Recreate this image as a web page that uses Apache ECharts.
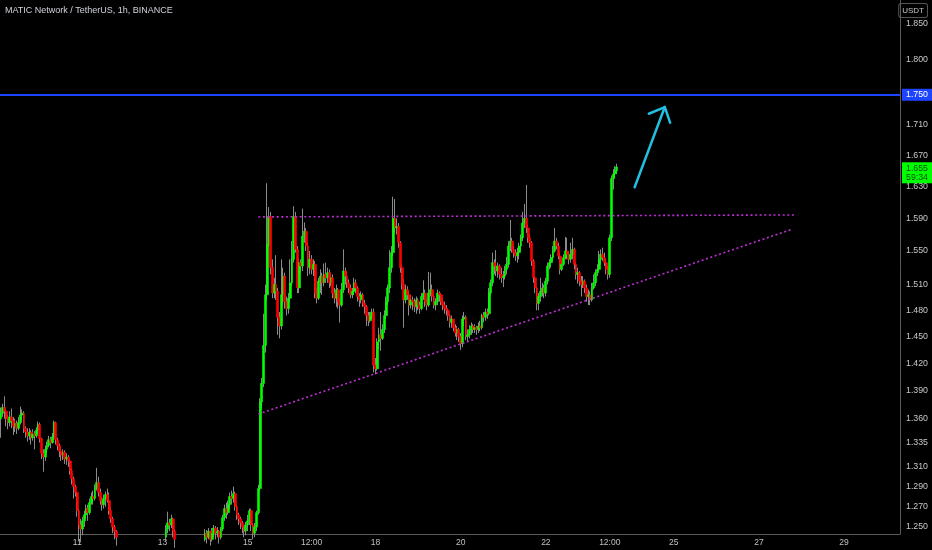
<!DOCTYPE html>
<html>
<head>
<meta charset="utf-8">
<script src="https://cdn.jsdelivr.net/npm/echarts@6/dist/echarts.min.js"></script>
<style>
html,body{margin:0;padding:0;background:#000;}
#chart{width:932px;height:550px;}
</style>
</head>
<body>
<div id="chart"></div>
<script>
// ---- data (hourly candles, MATIC/USDT) ----
const chartTitle = 'MATIC Network / TetherUS, 1h, BINANCE';
const startDay = 9, startHour = 5, totalSlots = 507;
const firstOpen = 1.360;
const closes = [
1.366,1.372,1.368,1.360,1.356,1.362,1.358,1.352,1.355,1.350,
1.356,1.364,1.366,1.350,1.346,1.342,1.346,1.340,1.344,1.342,
1.348,1.354,1.339,1.324,1.320,1.328,1.332,1.338,1.335,1.341,
1.356,1.338,1.332,1.326,1.322,1.325,1.318,1.320,1.316,1.306,
1.298,1.290,1.284,1.266,1.252,1.248,1.256,1.262,1.268,1.264,
1.274,1.280,1.278,1.288,1.294,1.284,1.276,1.272,1.278,1.282,
1.276,1.266,1.258,1.250,1.246,1.240,1.236,1.232,1.228,1.234,
1.226,1.222,1.218,1.224,1.220,1.214,1.210,1.216,1.220,1.214,
1.208,1.212,1.218,1.222,1.226,1.230,1.226,1.232,1.236,1.230,
1.234,1.238,1.240,1.248,1.254,1.252,1.258,1.246,1.238,1.234,
1.230,1.236,1.226,1.222,1.228,1.232,1.226,1.220,1.224,1.230,
1.234,1.228,1.232,1.236,1.238,1.244,1.240,1.246,1.238,1.244,
1.249,1.244,1.246,1.240,1.248,1.259,1.268,1.264,1.272,1.280,
1.278,1.283,1.270,1.262,1.258,1.254,1.250,1.246,1.252,1.256,
1.266,1.252,1.244,1.250,1.264,1.288,1.378,1.398,1.440,1.498,
1.558,1.592,1.530,1.500,1.510,1.502,1.472,1.462,1.498,1.520,
1.490,1.482,1.494,1.512,1.540,1.592,1.552,1.506,1.536,1.532,
1.568,1.574,1.556,1.530,1.540,1.528,1.534,1.500,1.494,1.514,
1.520,1.512,1.522,1.518,1.524,1.512,1.518,1.500,1.494,1.504,
1.490,1.486,1.504,1.526,1.520,1.512,1.506,1.498,1.502,1.512,
1.506,1.496,1.492,1.498,1.488,1.484,1.474,1.468,1.474,1.478,
1.418,1.414,1.444,1.452,1.448,1.458,1.474,1.490,1.506,1.530,
1.548,1.590,1.578,1.580,1.560,1.530,1.510,1.492,1.504,1.498,
1.486,1.492,1.490,1.484,1.492,1.486,1.482,1.496,1.500,1.490,
1.486,1.500,1.504,1.496,1.486,1.490,1.500,1.498,1.490,1.486,
1.482,1.480,1.474,1.466,1.470,1.460,1.454,1.458,1.450,1.442,
1.470,1.472,1.450,1.452,1.458,1.462,1.458,1.460,1.458,1.462,
1.460,1.474,1.472,1.478,1.476,1.500,1.512,1.536,1.532,1.526,
1.532,1.522,1.518,1.520,1.528,1.534,1.556,1.562,1.552,1.548,
1.544,1.548,1.556,1.566,1.584,1.590,1.578,1.566,1.560,1.538,
1.518,1.506,1.488,1.496,1.502,1.506,1.500,1.514,1.532,1.536,
1.542,1.550,1.562,1.556,1.544,1.528,1.534,1.542,1.550,1.546,
1.540,1.546,1.552,1.534,1.522,1.524,1.514,1.510,1.514,1.506,
1.496,1.498,1.492,1.506,1.512,1.524,1.528,1.540,1.546,1.542,
1.536,1.528,1.522,1.566,1.640,1.646,1.650,1.655
];
const highs = [
1.372,1.376,1.384,1.370,1.364,1.368,1.371,1.362,1.360,1.358,
1.362,1.373,1.370,1.368,1.352,1.350,1.350,1.348,1.349,1.347,
1.351,1.357,1.356,1.340,1.328,1.332,1.336,1.342,1.341,1.345,
1.358,1.357,1.340,1.334,1.330,1.328,1.327,1.324,1.322,1.318,
1.308,1.300,1.292,1.285,1.268,1.258,1.260,1.266,1.272,1.272,
1.278,1.284,1.286,1.292,1.309,1.300,1.288,1.280,1.282,1.285,
1.288,1.284,1.270,1.260,1.252,1.247,1.242,1.238,1.234,1.238,
1.236,1.228,1.224,1.228,1.226,1.222,1.216,1.220,1.224,1.222,
1.216,1.216,1.222,1.226,1.230,1.234,1.232,1.236,1.240,1.238,
1.238,1.241,1.243,1.252,1.265,1.258,1.262,1.259,1.248,1.240,
1.236,1.240,1.236,1.228,1.232,1.236,1.234,1.228,1.228,1.234,
1.238,1.236,1.236,1.240,1.241,1.248,1.247,1.249,1.246,1.249,
1.252,1.251,1.250,1.247,1.250,1.262,1.272,1.274,1.276,1.284,
1.286,1.290,1.285,1.272,1.264,1.260,1.256,1.252,1.255,1.262,
1.268,1.268,1.254,1.254,1.266,1.292,1.382,1.404,1.476,1.510,
1.634,1.604,1.598,1.540,1.518,1.545,1.506,1.478,1.540,1.530,
1.524,1.496,1.500,1.540,1.562,1.605,1.598,1.556,1.542,1.540,
1.602,1.585,1.578,1.560,1.550,1.545,1.540,1.538,1.506,1.518,
1.528,1.524,1.535,1.536,1.530,1.528,1.524,1.522,1.506,1.510,
1.506,1.494,1.512,1.552,1.530,1.526,1.516,1.510,1.506,1.518,
1.516,1.508,1.500,1.502,1.500,1.492,1.486,1.478,1.478,1.482,
1.482,1.426,1.448,1.460,1.478,1.464,1.480,1.496,1.510,1.551,
1.556,1.617,1.614,1.590,1.584,1.562,1.534,1.516,1.510,1.508,
1.502,1.498,1.496,1.494,1.496,1.494,1.490,1.500,1.515,1.504,
1.494,1.525,1.524,1.510,1.498,1.494,1.504,1.502,1.500,1.494,
1.490,1.486,1.482,1.476,1.474,1.470,1.464,1.462,1.460,1.454,
1.474,1.478,1.474,1.458,1.463,1.466,1.464,1.464,1.462,1.466,
1.468,1.476,1.478,1.482,1.482,1.506,1.516,1.548,1.540,1.551,
1.536,1.534,1.530,1.526,1.532,1.543,1.562,1.588,1.566,1.556,
1.552,1.554,1.560,1.570,1.598,1.608,1.632,1.582,1.570,1.562,
1.540,1.520,1.508,1.500,1.518,1.512,1.510,1.518,1.536,1.540,
1.546,1.556,1.578,1.566,1.560,1.548,1.540,1.546,1.567,1.566,
1.550,1.560,1.566,1.554,1.536,1.530,1.526,1.520,1.520,1.516,
1.510,1.504,1.502,1.512,1.522,1.528,1.534,1.550,1.552,1.554,
1.548,1.540,1.532,1.570,1.644,1.652,1.656,1.659
];
const lows = [
1.340,1.362,1.360,1.352,1.349,1.352,1.350,1.343,1.346,1.344,
1.348,1.354,1.358,1.345,1.340,1.336,1.338,1.333,1.337,1.328,
1.340,1.344,1.335,1.318,1.305,1.316,1.324,1.330,1.329,1.334,
1.338,1.333,1.327,1.320,1.316,1.317,1.313,1.312,1.310,1.302,
1.292,1.278,1.280,1.260,1.236,1.235,1.242,1.250,1.258,1.256,
1.262,1.272,1.272,1.276,1.286,1.280,1.272,1.266,1.268,1.270,
1.274,1.262,1.254,1.244,1.238,1.232,1.228,1.226,1.222,1.226,
1.220,1.216,1.212,1.216,1.214,1.208,1.204,1.208,1.212,1.208,
1.202,1.206,1.210,1.216,1.220,1.224,1.220,1.224,1.228,1.224,
1.228,1.230,1.232,1.236,1.244,1.246,1.249,1.240,1.230,1.228,
1.224,1.228,1.220,1.216,1.220,1.226,1.220,1.214,1.218,1.222,
1.228,1.222,1.226,1.230,1.232,1.236,1.234,1.238,1.232,1.236,
1.240,1.238,1.240,1.234,1.238,1.246,1.256,1.258,1.262,1.268,
1.272,1.274,1.266,1.257,1.252,1.248,1.244,1.240,1.242,1.246,
1.252,1.246,1.238,1.240,1.246,1.262,1.286,1.370,1.394,1.432,
1.492,1.555,1.522,1.494,1.494,1.492,1.452,1.448,1.458,1.486,
1.482,1.474,1.476,1.490,1.508,1.536,1.548,1.500,1.500,1.524,
1.526,1.560,1.550,1.520,1.522,1.522,1.520,1.494,1.488,1.492,
1.500,1.498,1.508,1.512,1.512,1.506,1.508,1.494,1.488,1.484,
1.482,1.466,1.484,1.500,1.510,1.506,1.500,1.494,1.494,1.498,
1.500,1.490,1.484,1.488,1.484,1.476,1.462,1.462,1.466,1.470,
1.410,1.408,1.412,1.436,1.434,1.446,1.454,1.470,1.486,1.500,
1.524,1.544,1.572,1.570,1.554,1.524,1.504,1.460,1.488,1.492,
1.474,1.482,1.480,1.478,1.476,1.480,1.476,1.480,1.492,1.484,
1.480,1.484,1.496,1.490,1.482,1.480,1.486,1.490,1.486,1.480,
1.476,1.474,1.468,1.460,1.460,1.456,1.450,1.446,1.444,1.435,
1.438,1.462,1.446,1.444,1.448,1.452,1.454,1.454,1.452,1.454,
1.456,1.458,1.466,1.468,1.470,1.474,1.498,1.508,1.522,1.520,
1.518,1.516,1.512,1.507,1.516,1.522,1.530,1.550,1.548,1.542,
1.538,1.536,1.540,1.550,1.562,1.578,1.572,1.560,1.554,1.532,
1.512,1.500,1.480,1.480,1.490,1.496,1.494,1.496,1.510,1.528,
1.530,1.538,1.548,1.552,1.540,1.522,1.526,1.532,1.540,1.540,
1.534,1.536,1.540,1.528,1.516,1.511,1.508,1.496,1.506,1.500,
1.490,1.486,1.486,1.490,1.504,1.508,1.520,1.526,1.534,1.538,
1.532,1.522,1.516,1.518,1.562,1.626,1.640,1.646
];
const priceTicks = [1.250,1.270,1.290,1.310,1.335,1.360,1.390,1.420,1.450,1.480,1.510,1.550,1.590,1.630,1.670,1.710,1.750,1.800,1.850];
const timeTickCats = ['11 00:00','13 00:00','15 00:00','16 12:00','18 00:00','20 00:00','22 00:00','23 12:00','25 00:00','27 00:00','29 00:00'];
const timeTickTexts = ['11','13','15','12:00','18','20','22','12:00','25','27','29'];
// annotations: [candle index, price]
const resistanceLine = [[145, 1.5917], [448, 1.5942]];
const supportLine = [[145, 1.365], [446, 1.5768]];
const arrowShaft = [[357, 1.629], [374, 1.734]];
const arrowHeadLeft = [[365, 1.725], [374, 1.734]];
const arrowHeadRight = [[377, 1.713], [374, 1.734]];
const levelLine = 1.750;
const lastPrice = 1.655;
const countdown = '59:34';
const yMinPrice = 1.2432, yMaxPrice = 1.8849;

// ---- build ----
const L = Math.log;
const categories = [];
for (let i = 0; i < totalSlots; i++) {
  const t = startHour + i;
  const d = startDay + Math.floor(t / 24), h = t % 24;
  categories.push(d + ' ' + (h < 10 ? '0' : '') + h + ':00');
}
const wickData = [], bodyData = [];
for (let i = 0; i < closes.length; i++) {
  const o = i === 0 ? firstOpen : closes[i - 1];
  const c = closes[i];
  const hi = Math.max(highs[i], o, c), lo = Math.min(lows[i], o, c);
  wickData.push([L(o), L(c), L(lo), L(hi)]);
  bodyData.push([L(o), L(c), L(Math.min(o, c)), L(Math.max(o, c))]);
}
const seg = (pts, style) => [
  { coord: [pts[0][0], L(pts[0][1])], lineStyle: style },
  { coord: [pts[1][0], L(pts[1][1])] }
];
const FONT = '"Liberation Sans", Arial, sans-serif';
const dotted = { color: '#c02ed8', width: 1.6, type: [2, 2.6] };
const cyan = { color: '#22bfe0', width: 2.5, type: 'solid', cap: 'round' };

const chart = echarts.init(document.getElementById('chart'), null, { renderer: 'canvas' });
chart.setOption({
  backgroundColor: '#000000',
  animation: false,
  title: {
    text: chartTitle, left: 5, top: 6, padding: 0,
    textStyle: { color: '#d1d4dc', fontSize: 9, fontWeight: 'normal', fontFamily: FONT }
  },
  graphic: [{
    type: 'text', right: 4, top: 3,
    style: {
      text: 'USDT', fill: '#c8c8c8', font: '8px ' + FONT,
      backgroundColor: '#000', borderColor: '#555', borderWidth: 1, borderRadius: 2,
      padding: [3, 3, 2, 3]
    }
  }],
  grid: { left: 0, right: 32, top: 0, bottom: 16 },
  xAxis: {
    type: 'category', data: categories, boundaryGap: true,
    axisLine: { show: true, lineStyle: { color: '#5a5a5a', width: 1 } },
    axisTick: { show: false },
    splitLine: { show: false },
    axisLabel: {
      color: '#c0c0c0', fontSize: 8.5, fontFamily: FONT, margin: 4,
      interval: (idx, val) => timeTickCats.indexOf(val) >= 0,
      formatter: val => { const k = timeTickCats.indexOf(val); return k >= 0 ? timeTickTexts[k] : ''; }
    }
  },
  yAxis: {
    type: 'value', position: 'right', scale: true,
    min: L(yMinPrice), max: L(yMaxPrice),
    axisLine: { show: true, lineStyle: { color: '#5a5a5a', width: 1 } },
    axisTick: { show: false },
    splitLine: { show: false },
    axisLabel: {
      color: '#c8c8c8', fontSize: 8.8, fontFamily: FONT, margin: 6,
      customValues: priceTicks.map(L),
      formatter: v => Math.exp(v).toFixed(3)
    }
  },
  series: [
    {
      type: 'candlestick', name: 'wick', data: wickData, barWidth: 1, clip: true, z: 2,
      itemStyle: { color: '#8a8a8a', color0: '#8a8a8a', borderColor: '#8a8a8a', borderColor0: '#8a8a8a', borderWidth: 1 },
      markLine: {
        silent: true, animation: false, symbol: ['none', 'none'], z: 5,
        label: { show: false },
        data: [
          seg(resistanceLine, dotted),
          seg(supportLine, dotted),
          seg(arrowShaft, cyan),
          seg(arrowHeadLeft, cyan),
          seg(arrowHeadRight, cyan),
          {
            yAxis: L(levelLine),
            lineStyle: { color: '#1e44ff', width: 2, type: 'solid' },
            label: {
              show: true, position: 'end', distance: 2,
              formatter: levelLine.toFixed(3),
              color: '#ffffff', backgroundColor: '#1e44ff',
              fontSize: 8.8, fontFamily: FONT, padding: [2, 4, 1, 4]
            }
          },
          {
            yAxis: L(lastPrice),
            lineStyle: { color: 'rgba(0,0,0,0)', width: 0 },
            label: {
              show: true, position: 'end', distance: 2, offset: [0, 1],
              formatter: lastPrice.toFixed(3) + '\n' + countdown,
              color: '#0b4a0b', backgroundColor: '#00ff00', lineHeight: 9,
              fontSize: 8.8, fontFamily: FONT, padding: [2, 4, 1, 4]
            }
          }
        ]
      }
    },
    {
      type: 'candlestick', name: 'body', data: bodyData, barWidth: 2.4, clip: true, z: 3,
      itemStyle: { color: '#00ff00', color0: '#ff0000', borderColor: '#00ff00', borderColor0: '#ff0000', borderWidth: 0.6 }
    }
  ]
});
</script>
</body>
</html>
